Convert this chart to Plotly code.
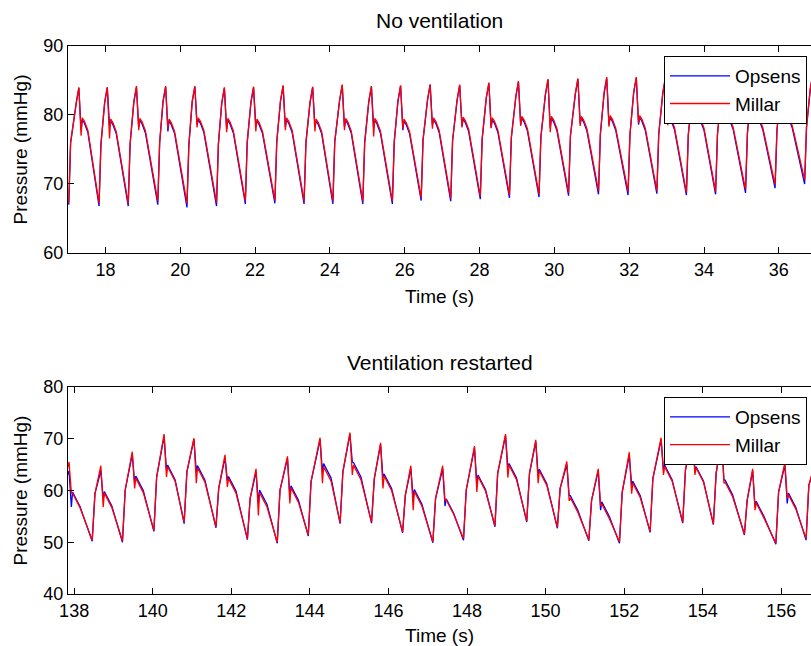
import plotly.graph_objects as go

# ---------------- data ----------------
# Top panel: "No ventilation" (per-beat landmarks)
top_foot_t = [17.02, 17.83, 18.61, 19.40, 20.18, 20.97, 21.74, 22.53, 23.31, 24.08, 24.88, 25.67, 26.44,
              27.23, 28.02, 28.80, 29.59, 30.38, 31.18, 31.97, 32.74, 33.53, 34.31, 35.11, 35.90, 36.69]
top_peak_t = [17.29, 18.05, 18.83, 19.61, 20.39, 21.18, 21.96, 22.75, 23.54, 24.33, 25.11, 25.89, 26.68,
              27.47, 28.25, 29.04, 29.83, 30.63, 31.40, 32.19, 32.97, 33.76, 34.54, 35.33, 36.12, 36.91]

top_opsens_foot = [67.0, 66.8, 66.8, 67.0, 66.6, 66.8, 67.1, 67.2, 67.1, 67.1, 67.1, 67.1, 67.6,
                   67.5, 67.8, 68.0, 68.1, 68.3, 68.5, 68.4, 68.6, 68.4, 68.5, 68.7, 69.4, 70.0]
top_millar_foot = [67.3, 67.2, 67.2, 67.5, 67.2, 67.3, 67.5, 67.6, 67.5, 67.5, 67.5, 67.5, 68.0,
                   67.9, 68.2, 68.4, 68.5, 68.7, 69.0, 68.9, 69.0, 68.8, 68.9, 69.2, 69.9, 70.6]
top_shoulder = [76.0, 75.7, 75.8, 76.0, 75.6, 75.8, 76.0, 76.1, 76.0, 76.1, 76.0, 76.1, 76.4,
                76.3, 76.5, 76.7, 76.8, 77.0, 77.2, 77.1, 77.2, 77.1, 77.2, 77.3, 77.8, 78.2]
top_opsens_peak = [83.9, 84.0, 84.0, 84.1, 84.1, 83.9, 84.0, 84.2, 84.0, 84.3, 84.1, 84.2, 84.4,
                   84.3, 84.6, 84.8, 85.1, 85.2, 85.3, 85.4, 85.4, 85.4, 85.5, 85.5, 85.7, 85.9]
top_millar_peak = [84.0, 84.0, 84.2, 84.2, 84.2, 84.0, 84.1, 84.3, 84.1, 84.4, 84.2, 84.3, 84.4,
                   84.4, 84.7, 84.9, 85.2, 85.3, 85.5, 85.5, 85.5, 85.5, 85.6, 85.6, 85.8, 86.0]
top_opsens_notch = [77.8, 78.5, 78.2, 77.6, 78.6, 78.0, 78.4, 78.3, 78.4, 78.3, 78.2, 77.8, 78.6,
                    78.4, 78.2, 78.6, 78.2, 78.8, 78.6, 78.6, 78.9, 78.8, 78.9, 79.0, 79.2, 79.4]
top_millar_notch = [77.0, 76.6, 77.8, 78.0, 78.2, 77.5, 77.6, 77.8, 77.6, 77.8, 76.9, 78.0, 78.0,
                    78.2, 78.1, 78.4, 77.5, 78.4, 78.3, 78.8, 78.5, 78.7, 78.7, 78.8, 79.0, 79.2]
top_opsens_after = [79.3, 79.1, 79.2, 79.1, 79.3, 79.2, 79.1, 79.3, 79.1, 79.2, 79.2, 79.1, 79.3,
                    79.4, 79.3, 79.5, 79.5, 79.5, 79.6, 79.6, 79.7, 79.6, 79.7, 79.7, 79.9, 80.1]
top_millar_after = [79.6, 79.4, 79.5, 79.4, 79.6, 79.5, 79.4, 79.6, 79.4, 79.5, 79.5, 79.4, 79.6,
                    79.7, 79.6, 79.8, 79.8, 79.8, 79.9, 79.9, 80.0, 79.9, 80.0, 80.0, 80.2, 80.4]

# Bottom panel: "Ventilation restarted" (per-beat landmarks)
bot_foot_t = [137.62, 138.46, 139.23, 140.03, 140.80, 141.61, 142.41, 143.17, 143.96, 144.77, 145.57,
              146.36, 147.13, 147.91, 148.71, 149.52, 150.30, 151.10, 151.88, 152.66, 153.49, 154.27,
              155.06, 155.86, 156.63]
bot_peak_t = [137.87, 138.68, 139.48, 140.29, 141.05, 141.84, 142.63, 143.43, 144.26, 145.02, 145.80,
              146.57, 147.38, 148.19, 148.98, 149.75, 150.54, 151.34, 152.13, 152.94, 153.74, 154.48,
              155.27, 156.09, 156.88]

bot_millar_foot = [51.5, 50.4, 50.3, 52.3, 53.9, 53.0, 50.7, 50.0, 51.4, 53.8, 53.9, 52.0, 50.1,
                   50.7, 53.2, 54.1, 52.9, 50.5, 50.1, 52.1, 53.9, 53.6, 51.6, 49.8, 50.7]
bot_opsens_foot = [51.3, 50.2, 50.0, 52.1, 53.6, 52.8, 50.5, 49.8, 51.2, 53.6, 53.7, 51.8, 49.9,
                   50.4, 53.0, 53.9, 52.7, 50.3, 49.8, 51.9, 53.7, 53.4, 51.4, 49.6, 50.4]
bot_shoulder = [60.0, 59.4, 60.1, 62.6, 63.6, 60.4, 58.5, 60.1, 61.7, 63.6, 62.3, 59.1, 58.5,
                60.1, 63.3, 63.3, 60.4, 58.1, 59.7, 62.3, 64.0, 63.3, 58.1, 59.7, 61.0]
bot_millar_peak = [65.5, 64.8, 67.5, 70.9, 70.1, 66.9, 64.2, 66.6, 70.2, 71.2, 69.2, 64.8, 64.8,
                   68.6, 70.9, 69.8, 65.6, 64.2, 67.4, 70.2, 70.5, 70.2, 64.2, 65.4, 66.0]
bot_opsens_peak = [63.8, 63.8, 67.0, 70.4, 69.9, 66.3, 63.6, 66.2, 69.8, 70.9, 68.9, 64.2, 64.2,
                   68.2, 70.6, 69.4, 65.0, 63.8, 66.8, 69.8, 70.2, 69.8, 63.8, 64.9, 65.5]
bot_millar_notch = [59.5, 56.8, 60.4, 62.6, 61.4, 60.7, 55.2, 57.5, 61.4, 63.0, 60.4, 56.2, 58.0,
                    59.7, 62.5, 61.4, 58.0, 57.0, 59.4, 63.0, 63.0, 61.4, 56.2, 58.5, 58.5]
bot_opsens_notch = [56.8, 58.5, 61.5, 64.0, 63.5, 62.0, 57.5, 59.0, 63.5, 65.5, 62.5, 58.5, 57.0,
                    61.5, 64.5, 63.0, 59.0, 56.2, 61.0, 64.0, 64.0, 62.0, 57.0, 57.5, 59.5]
bot_millar_after = [59.5, 59.5, 62.4, 64.6, 64.4, 62.3, 59.6, 60.5, 64.6, 64.9, 62.8, 59.8, 58.2,
                    62.7, 64.9, 63.8, 58.6, 57.4, 61.4, 64.6, 64.4, 61.6, 57.6, 59.2, 59.8]
bot_opsens_after = [59.7, 59.8, 62.8, 64.9, 64.8, 62.7, 60.1, 60.9, 65.2, 65.4, 63.2, 60.2, 58.4,
                    63.0, 65.2, 64.1, 59.0, 57.8, 61.8, 64.9, 64.6, 62.0, 57.9, 59.5, 60.1]

top_xticks = [18, 20, 22, 24, 26, 28, 30, 32, 34, 36]
top_yticks = [60, 70, 80, 90]
bot_xticks = [138, 140, 142, 144, 146, 148, 150, 152, 154, 156]
bot_yticks = [40, 50, 60, 70, 80]

# ---------------- waveform assembly from the landmarks ----------------
TOP_SHAPE = dict(sh=0.05, pre=0.07, pre_drop=2.2, notch=0.06, after=0.09,
                 plats=[(0.15, 0.5), (0.24, 1.8)])
BOT_SHAPE = dict(sh=0.07, pre=None, pre_drop=0.0, notch=0.06, after=0.09,
                 plats=[(0.28, 2.8)])


def waveform(foot_t, peak_t, foot, shoulder, peak, notch, after, shape):
    xs, ys = [], []
    for i in range(len(foot_t)):
        tf, tp = foot_t[i], peak_t[i]
        xs += [tf, tf + shape["sh"]]
        ys += [foot[i], shoulder[i]]
        if shape["pre"] is not None:
            xs.append(tp - shape["pre"])
            ys.append(peak[i] - shape["pre_drop"])
        xs += [tp, tp + shape["notch"], tp + shape["after"]]
        ys += [peak[i], notch[i], after[i]]
        for dt, drop in shape["plats"]:
            xs.append(tp + dt)
            ys.append(after[i] - drop)
    return xs, ys


BLUE = "#0000FF"
RED = "#FF0000"

fig = go.Figure()

x, y = waveform(top_foot_t, top_peak_t, top_opsens_foot, top_shoulder, top_opsens_peak,
                top_opsens_notch, top_opsens_after, TOP_SHAPE)
fig.add_trace(go.Scatter(x=x, y=y, mode="lines", name="Opsens", line=dict(color=BLUE, width=1.3),
                         xaxis="x", yaxis="y", legend="legend"))
x, y = waveform(top_foot_t, top_peak_t, top_millar_foot, top_shoulder, top_millar_peak,
                top_millar_notch, top_millar_after, TOP_SHAPE)
fig.add_trace(go.Scatter(x=x, y=y, mode="lines", name="Millar", line=dict(color=RED, width=1.3),
                         xaxis="x", yaxis="y", legend="legend"))

x, y = waveform(bot_foot_t, bot_peak_t, bot_opsens_foot, bot_shoulder, bot_opsens_peak,
                bot_opsens_notch, bot_opsens_after, BOT_SHAPE)
fig.add_trace(go.Scatter(x=x, y=y, mode="lines", name="Opsens", line=dict(color=BLUE, width=1.3),
                         xaxis="x2", yaxis="y2", legend="legend2"))
x, y = waveform(bot_foot_t, bot_peak_t, bot_millar_foot, bot_shoulder, bot_millar_peak,
                bot_millar_notch, bot_millar_after, BOT_SHAPE)
fig.add_trace(go.Scatter(x=x, y=y, mode="lines", name="Millar", line=dict(color=RED, width=1.3),
                         xaxis="x2", yaxis="y2", legend="legend2"))

FONT = "Liberation Sans, Arial, Helvetica, sans-serif"
tickfont = dict(family=FONT, size=18, color="black")
labfont = dict(family=FONT, size=19, color="black")

common_x = dict(showline=True, linecolor="black", linewidth=1.2, mirror="ticks", ticks="inside",
                ticklen=6, tickwidth=1, tickcolor="black", showgrid=False, zeroline=False,
                tickfont=tickfont, title_font=labfont, title_standoff=11, automargin=False)
common_y = dict(showline=True, linecolor="black", linewidth=1.2, mirror=False, ticks="inside",
                ticklen=6, tickwidth=1, tickcolor="black", showgrid=False, zeroline=False,
                tickfont=tickfont, title_font=labfont, title_standoff=10, automargin=False)

fig.update_layout(
    width=811, height=646,
    margin=dict(l=68, r=0, t=46, b=52, autoexpand=False),
    plot_bgcolor="white", paper_bgcolor="white",
    font=dict(family=FONT, color="black"),
    xaxis=dict(domain=[0, 1], anchor="y", range=[17.0, 36.86], tickvals=top_xticks,
               title_text="Time (s)", **common_x),
    yaxis=dict(domain=[0.6223, 1], anchor="x", range=[60, 90], tickvals=top_yticks,
               title_text="Pressure (mmHg)", **common_y),
    xaxis2=dict(domain=[0, 1], anchor="y2", range=[137.844, 156.755], tickvals=bot_xticks,
                title_text="Time (s)", **common_x),
    yaxis2=dict(domain=[0, 0.3777], anchor="x2", range=[40, 80], tickvals=bot_yticks,
                title_text="Pressure (mmHg)", **common_y),
    legend=dict(x=0.9946, y=0.9818, xanchor="right", yanchor="top", bgcolor="white",
                bordercolor="black", borderwidth=1, font=labfont, itemwidth=60,
                tracegroupgap=0),
    legend2=dict(x=0.9946, y=0.3595, xanchor="right", yanchor="top", bgcolor="white",
                 bordercolor="black", borderwidth=1, font=labfont, itemwidth=60,
                 tracegroupgap=0),
    annotations=[
        dict(text="No ventilation", x=0.5, y=(594 - 21) / 548, xref="paper", yref="paper",
             xanchor="center", yanchor="middle",
             showarrow=False, font=dict(family=FONT, size=21, color="black")),
        dict(text="Ventilation restarted", x=0.5, y=(594 - 362) / 548, xref="paper", yref="paper",
             xanchor="center", yanchor="middle",
             showarrow=False, font=dict(family=FONT, size=21, color="black")),
    ],
)

fig.write_html("out.html", config={"displayModeBar": False},
               post_script="document.body.style.margin='0';document.body.style.overflow='hidden';")
